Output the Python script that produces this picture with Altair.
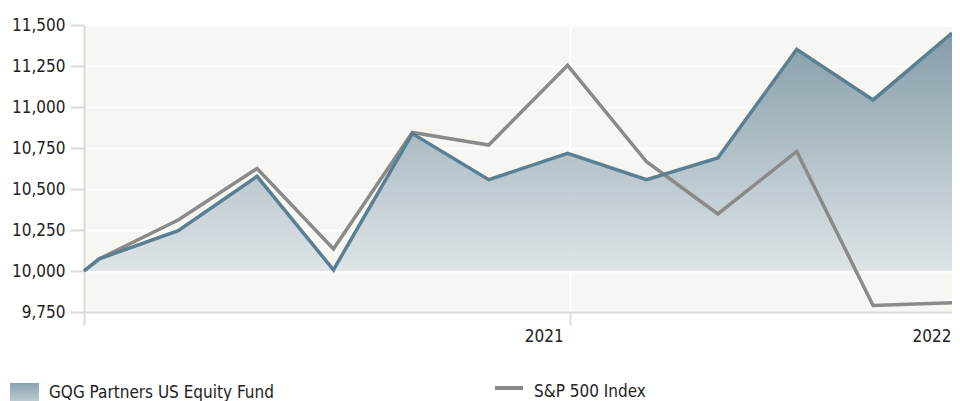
import altair as alt
import pandas as pd

# ---- data ----
dates = ["2020-06-24", "2020-06-30", "2020-07-31", "2020-08-31", "2020-09-30",
         "2020-10-31", "2020-11-30", "2020-12-31", "2021-01-31", "2021-02-28",
         "2021-03-31", "2021-04-30", "2021-05-31"]
fund = [10000, 10074, 10246, 10577, 10007, 10838, 10557, 10717, 10557, 10689,
        11352, 11043, 11451]
sp500 = [10000, 10074, 10311, 10625, 10135, 10845, 10768, 11254, 10666, 10348,
         10729, 9790, 9807]
series_names = ["GQG Partners US Equity Fund", "S&P 500 Index"]
baseline = 10000
y_ticks = [9750, 10000, 10250, 10500, 10750, 11000, 11250, 11500]
x_tick_dates = ["2020-06-24", "2021-01-01", "2021-05-31"]
x_tick_labels = ["", "2021", "2022"]

FONT = "DejaVu Sans Condensed, Roboto, Liberation Sans, sans-serif"
FS = 17
BLUE = "#5a7f91"
GRAY = "#8a8a8a"
AXIS_GRAY = "#dadada"

df = pd.DataFrame({
    "date": [d + "T00:00:00" for d in dates],
    "fund": fund,
    "sp500": sp500,
})

def to_dt(s):
    y, m, d = (int(v) for v in s.split("-"))
    return alt.DateTime(year=y, month=m, date=d)

label_map = ", ".join(f"'{d}': '{l}'" for d, l in zip(x_tick_dates, x_tick_labels))
label_expr = "{" + label_map + "}[timeFormat(datum.value, '%Y-%m-%d')]"

x_enc = alt.X(
    "date:T",
    scale=alt.Scale(domain=[to_dt(dates[0]), to_dt(dates[-1])], nice=False),
    axis=alt.Axis(
        values=[to_dt(d) for d in x_tick_dates],
        labelExpr=label_expr,
        title=None,
        grid=True,
        gridColor={"condition": {"test": "datum.index == 1", "value": "transparent"},
                   "value": "white"},
        gridWidth=2,
        domainColor=AXIS_GRAY, domainWidth=2,
        tickColor={"condition": {"test": "datum.index == 1", "value": "transparent"},
                   "value": AXIS_GRAY},
        tickWidth=2, tickSize=13,
        labelFont=FONT, labelFontSize=FS, labelColor="#222222",
        labelAlign="right",
        labelOffset={"condition": {"test": "datum.index == 1", "value": -1},
                     "value": -7},
        labelPadding=3,
        labelBaseline="top", labelFlush=False, labelOverlap=False,
    ),
)

y_scale = alt.Scale(domain=[y_ticks[0], y_ticks[-1]], nice=False, zero=False)
y_axis = alt.Axis(
    values=y_ticks, format=",.0f", title=None,
    grid=True, gridColor="white", gridWidth=2,
    domainColor=AXIS_GRAY, domainWidth=2,
    tickColor=AXIS_GRAY, tickWidth=2, tickSize=14,
    labelFont=FONT, labelFontSize=FS, labelColor="#222222",
    labelPadding=5,
)

base = alt.Chart(df)

area = base.mark_area(
    fill=alt.Gradient(
        gradient="linear",
        stops=[alt.GradientStop(color="#7b95a3", offset=0),
               alt.GradientStop(color="#dce3e6", offset=1)],
        x1=1, x2=1, y1=0, y2=1,
    ),
    opacity=0.92,
).encode(
    x=x_enc,
    y=alt.Y("fund:Q", scale=y_scale, axis=y_axis),
    y2=alt.datum(baseline),
)

sp_line = base.mark_line(color=GRAY, strokeWidth=3.5).encode(
    x=x_enc, y=alt.Y("sp500:Q", scale=y_scale, axis=y_axis)
)
fund_line = base.mark_line(color=BLUE, strokeWidth=3.5).encode(
    x=x_enc, y=alt.Y("fund:Q", scale=y_scale, axis=y_axis)
)

# ---- legend (below the axis) ----
leg = alt.Chart(pd.DataFrame({"name": series_names}))
swatch_fund = leg.transform_filter(alt.datum.name == series_names[0]).mark_rect(
    fill=alt.Gradient(
        gradient="linear",
        stops=[alt.GradientStop(color="#8aa2b0", offset=0),
               alt.GradientStop(color="#cdd7dc", offset=1)],
        x1=1, x2=1, y1=0, y2=1,
    )
).encode(x=alt.value(-74), x2=alt.value(-45), y=alt.value(358), y2=alt.value(382))
text_fund = leg.transform_filter(alt.datum.name == series_names[0]).mark_text(
    font=FONT, fontSize=FS, align="left", baseline="alphabetic", color="#222222"
).encode(text="name:N", x=alt.value(-35), y=alt.value(373))
swatch_sp = leg.transform_filter(alt.datum.name == series_names[1]).mark_rule(
    color=GRAY, strokeWidth=4
).encode(x=alt.value(411), x2=alt.value(439), y=alt.value(363))
text_sp = leg.transform_filter(alt.datum.name == series_names[1]).mark_text(
    font=FONT, fontSize=FS, align="left", baseline="alphabetic", color="#222222"
).encode(text="name:N", x=alt.value(450), y=alt.value(372))

chart = alt.layer(
    area, sp_line, fund_line, swatch_fund, text_fund, swatch_sp, text_sp
).properties(
    width=868, height=287,
    autosize=alt.AutoSizeParams(type="none"),
    padding={"left": 76, "top": 17, "right": 0, "bottom": 89},
).configure_view(
    fill="#f6f6f2", stroke=None
)

chart.save("out.html", embed_options={"renderer": "svg", "actions": False})
